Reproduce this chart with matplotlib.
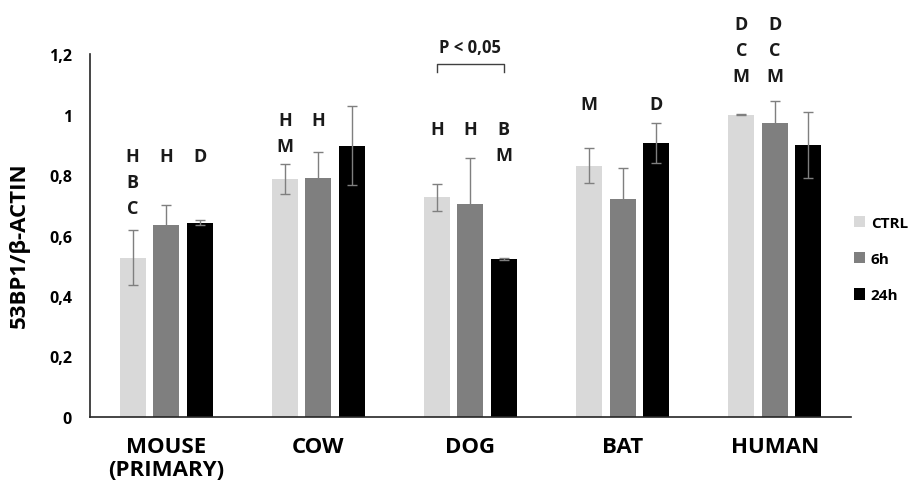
import numpy as np
import matplotlib
matplotlib.use("Agg")
import matplotlib.pyplot as plt
from matplotlib.ticker import FuncFormatter

plt.rcParams['font.family'] = ['Open Sans', 'DejaVu Sans']
plt.rcParams['font.weight'] = 'bold'

# data
species = ["MOUSE\n(PRIMARY)", "COW", "DOG", "BAT", "HUMAN"]
series = ["CTRL", "6h", "24h"]
ctrl_vals = [0.527, 0.787, 0.726, 0.830, 1.000]
h6_vals = [0.635, 0.791, 0.703, 0.720, 0.973]
h24_vals = [0.642, 0.897, 0.523, 0.906, 0.899]
ctrl_err = [0.090, 0.051, 0.045, 0.058, 0.002]
h6_err = [0.065, 0.085, 0.154, 0.102, 0.072]
h24_err = [0.008, 0.131, 0.004, 0.067, 0.108]

# significance letters above each bar
ctrl_letters = ["H\nB\nC", "H\nM", "H", "M", "D\nC\nM"]
h6_letters = ["H", "H", "H", "", "D\nC\nM"]
h24_letters = ["D", "", "B\nM", "D", ""]
letter_top = [0.864, 0.983, 0.952, 1.035, 1.300]

colors = ["#D9D9D9", "#7F7F7F", "#000000"]


def comma_fmt(v, p):
    if abs(v - round(v)) < 1e-9:
        return f"{int(round(v))}"
    return f"{v:.1f}".replace(".", ",")


fig = plt.figure(figsize=(9.08, 4.89), dpi=100)
ax = fig.add_axes([0.0991, 0.1452, 0.8379, 0.7423])

x = np.arange(len(species))
offset = 0.22
width = 0.171
vals = [ctrl_vals, h6_vals, h24_vals]
errs = [ctrl_err, h6_err, h24_err]
letters = [ctrl_letters, h6_letters, h24_letters]

for i in range(3):
    pos = x + (i - 1) * offset
    ax.bar(pos, vals[i], width=width, color=colors[i], label=series[i],
           yerr=errs[i], error_kw=dict(ecolor="#7F7F7F", elinewidth=1.0,
                                       capsize=3.5, capthick=1.0))
    for j in range(len(species)):
        for k, ch in enumerate(letters[i][j].split("\n")):
            if ch:
                ax.text(pos[j], letter_top[j] - k * 0.086, ch, ha="center",
                        va="center", fontsize=13, fontweight="bold",
                        color="#1a1a1a", clip_on=False)

# bracket over DOG CTRL vs 24h
bx0, bx1 = x[2] - offset, x[2] + offset
ax.plot([bx0, bx0, bx1, bx1], [1.14, 1.167, 1.167, 1.14], color="#404040",
        lw=1.0, clip_on=False)
ax.text(x[2], 1.222, "P < 0,05", ha="center", va="center", fontsize=12,
        fontweight="bold", color="#1a1a1a")

ax.set_xlim(-0.5, 4.5)
ax.set_ylim(0, 1.2)
ax.set_yticks(np.arange(0, 1.21, 0.2))
ax.yaxis.set_major_formatter(FuncFormatter(comma_fmt))
ax.set_xticks(x)
ax.set_xticklabels(species, fontsize=16, fontweight="bold", linespacing=1.15)
ax.tick_params(axis="y", length=0, pad=13, labelsize=11.5)
ax.tick_params(axis="x", length=0, pad=13.5)
for lab in ax.get_yticklabels():
    lab.set_fontweight("bold")

ax.set_ylabel("53BP1/β-ACTIN", fontsize=16, fontweight="bold")
ax.yaxis.set_label_coords(-0.079, 0.475)

for s in ["top", "right"]:
    ax.spines[s].set_visible(False)
for s in ["left", "bottom"]:
    ax.spines[s].set_color("#262626")
    ax.spines[s].set_linewidth(1.2)

ax.legend(loc="center left", bbox_to_anchor=(1.0, 0.435), frameon=False,
          handlelength=0.75, handleheight=0.75, handletextpad=0.35,
          labelspacing=1.45, borderaxespad=0.2, borderpad=0,
          prop=dict(size=11, weight="bold"))

fig.savefig("out.png", dpi=100)
